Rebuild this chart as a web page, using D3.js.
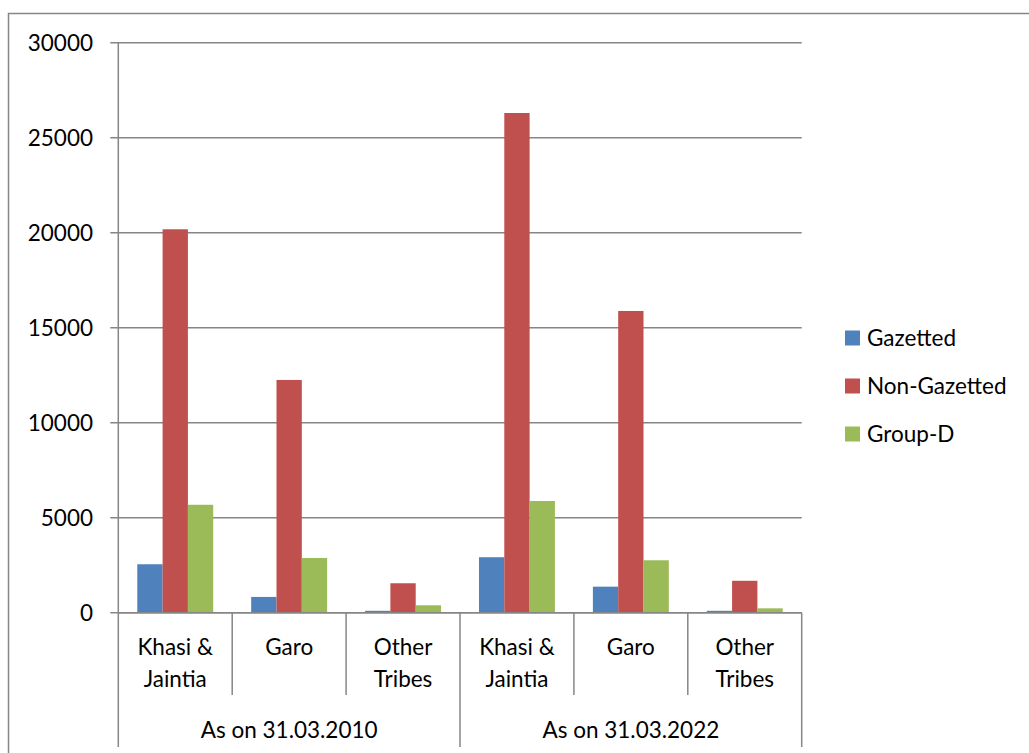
<!DOCTYPE html>
<html>
<head>
<meta charset="utf-8">
<script src="https://cdn.jsdelivr.net/npm/d3@7"></script>
<style>
  body { margin: 0; background: #fff; }
  svg text { font-family: Lato, "Open Sans", sans-serif; fill: #000; }
</style>
</head>
<body>
<svg id="chart" width="1029" height="753"></svg>
<script>
// data
var groups = ["As on 31.03.2010", "As on 31.03.2022"];
var tribes = [["Khasi &", "Jaintia"], ["Garo"], ["Other", "Tribes"]];
var series = ["Gazetted", "Non-Gazetted", "Group-D"];
var colors = ["#4F81BD", "#C0504D", "#9BBB59"];
var gazetted    = [2550, 830, 100, 2920, 1370, 100];
var nonGazetted = [20180, 12250, 1550, 26300, 15880, 1680];
var groupD      = [5680, 2880, 390, 5880, 2760, 230];
var yTicks = [0, 5000, 10000, 15000, 20000, 25000, 30000];

var svg = d3.select("#chart");
var gridColor = "#868686";

// outer chart border (runs past right / bottom edge)
svg.append("rect")
  .attr("x", 8.5).attr("y", 13.5)
  .attr("width", 1100).attr("height", 800)
  .attr("fill", "none")
  .attr("stroke", gridColor)
  .attr("stroke-width", 1.5);

// categories: one per group x tribe
var cats = [];
groups.forEach(function(g, gi) {
  tribes.forEach(function(t, ti) {
    cats.push({ id: gi + "-" + ti, group: g, label: t, i: cats.length });
  });
});

var plotL = 118.3, plotR = 801.7, plotT = 42.7, plotB = 612.7;

var x0 = d3.scaleBand()
  .domain(cats.map(function(d) { return d.id; }))
  .range([plotL, plotR]);

var x1 = d3.scaleBand()
  .domain(series)
  .range([0, x0.bandwidth()])
  .paddingOuter(0.75);

var y = d3.scaleLinear()
  .domain([0, 30000])
  .range([plotB, plotT]);

// gridlines + y axis labels
svg.append("g")
  .selectAll("line")
  .data(yTicks)
  .enter().append("line")
    .attr("x1", plotL - 8).attr("x2", plotR)
    .attr("y1", function(d) { return y(d); })
    .attr("y2", function(d) { return y(d); })
    .attr("stroke", gridColor)
    .attr("stroke-width", 1.5);

svg.append("g")
  .selectAll("text")
  .data(yTicks)
  .enter().append("text")
    .attr("x", 93)
    .attr("y", function(d) { return y(d) + 8; })
    .attr("text-anchor", "end")
    .style("font-size", "22.5px")
    .text(function(d) { return d; });

// bars
var values = [gazetted, nonGazetted, groupD];
var barG = svg.append("g")
  .selectAll("g")
  .data(cats)
  .enter().append("g")
    .attr("transform", function(d) { return "translate(" + x0(d.id) + ",0)"; });

barG.selectAll("rect")
  .data(function(c) {
    return series.map(function(s, si) { return { s: s, si: si, v: values[si][c.i] }; });
  })
  .enter().append("rect")
    .attr("x", function(d) { return x1(d.s); })
    .attr("width", x1.bandwidth())
    .attr("y", function(d) { return y(d.v); })
    .attr("height", function(d) { return plotB - y(d.v); })
    .attr("fill", function(d) { return colors[d.si]; });

// axes lines
svg.append("line")
  .attr("x1", plotL).attr("x2", plotL)
  .attr("y1", plotT).attr("y2", 747)
  .attr("stroke", gridColor).attr("stroke-width", 1.5);

svg.append("line")
  .attr("x1", plotL).attr("x2", plotR)
  .attr("y1", plotB).attr("y2", plotB)
  .attr("stroke", gridColor).attr("stroke-width", 1.5);

// category dividers
svg.append("g")
  .selectAll("line")
  .data(cats.slice(1))
  .enter().append("line")
    .attr("x1", function(d) { return x0(d.id); })
    .attr("x2", function(d) { return x0(d.id); })
    .attr("y1", plotB)
    .attr("y2", function(d) { return d.i % 3 === 0 ? 747 : 695; })
    .attr("stroke", gridColor).attr("stroke-width", 1.5);

svg.append("line")
  .attr("x1", plotR).attr("x2", plotR)
  .attr("y1", plotB).attr("y2", 747)
  .attr("stroke", gridColor).attr("stroke-width", 1.5);

// category labels
var catText = svg.append("g")
  .selectAll("text")
  .data(cats)
  .enter().append("text")
    .attr("text-anchor", "middle")
    .style("font-size", "22.5px")
    .attr("x", function(d) { return x0(d.id) + x0.bandwidth() / 2; })
    .attr("y", 655);

catText.selectAll("tspan")
  .data(function(d) { return d.label; })
  .enter().append("tspan")
    .attr("x", function() { var p = d3.select(this.parentNode).datum(); return x0(p.id) + x0.bandwidth() / 2; })
    .attr("dy", function(d, i) { return i === 0 ? 0 : 32; })
    .text(function(d) { return d; });

// group labels
svg.append("g")
  .selectAll("text")
  .data(groups)
  .enter().append("text")
    .attr("text-anchor", "middle")
    .style("font-size", "22.5px")
    .attr("x", function(d, i) { return x0(cats[i * 3].id) + x0.bandwidth() * 1.5; })
    .attr("y", 738)
    .text(function(d) { return d; });

// legend
var legend = svg.append("g")
  .selectAll("g")
  .data(series)
  .enter().append("g")
    .attr("transform", function(d, i) { return "translate(845," + (338 + i * 48) + ")"; });

legend.append("rect")
  .attr("x", 0).attr("y", -7.5)
  .attr("width", 15).attr("height", 15)
  .attr("fill", function(d, i) { return colors[i]; });

legend.append("text")
  .attr("x", 22)
  .attr("y", 8)
  .style("font-size", "22.5px")
  .text(function(d) { return d; });
</script>
</body>
</html>
